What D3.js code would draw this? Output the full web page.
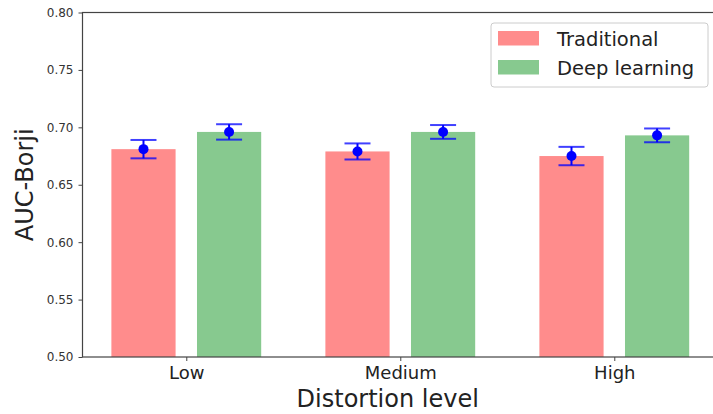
<!DOCTYPE html>
<html>
<head>
<meta charset="utf-8">
<script src="https://cdn.jsdelivr.net/npm/d3@7"></script>
<style>
  body { margin: 0; background: #fff; }
  svg { font-family: "DejaVu Sans", sans-serif; }
</style>
</head>
<body>
<svg width="713" height="414"></svg>
<script>
let levels = ["Low", "Medium", "High"];
let series_names = ["Traditional", "Deep learning"];
let traditional = [0.681, 0.679, 0.675];
let traditional_err = [0.008, 0.007, 0.008];
let deep = [0.696, 0.696, 0.693];
let deep_err = [0.0067, 0.006, 0.006];
let y_ticks = [0.50, 0.55, 0.60, 0.65, 0.70, 0.75, 0.80];

let colors = ["rgb(255,140,140)", "rgb(135,201,143)"];
let left = 82.5, top_ = 12.5, bottom = 357;

let svg = d3.select('svg');

let x = d3.scaleLinear().domain([-0.485, 2.485]).range([left, left + 2.97 * 214]);
let y = d3.scaleLinear().domain([0.5, 0.8]).range([bottom, top_]);

// bars + error data
let bar_data = [];
levels.forEach(function (lvl, i) {
    bar_data.push({ s: 0, pos: i - 0.2, v: traditional[i], e: traditional_err[i] });
    bar_data.push({ s: 1, pos: i + 0.2, v: deep[i], e: deep_err[i] });
});

svg.append('g')
    .selectAll('rect')
    .data(bar_data)
    .join('rect')
    .attr('x', function (d) { return x(d.pos - 0.15); })
    .attr('width', function (d) { return x(d.pos + 0.15) - x(d.pos - 0.15); })
    .attr('y', function (d) { return y(d.v); })
    .attr('height', function (d) { return y(0.5) - y(d.v); })
    .attr('fill', function (d) { return colors[d.s]; });

// error bars
let err = svg.append('g').attr('stroke', 'blue');
err.selectAll('line.v')
    .data(bar_data)
    .join('line')
    .attr('class', 'v')
    .attr('x1', function (d) { return x(d.pos); })
    .attr('x2', function (d) { return x(d.pos); })
    .attr('y1', function (d) { return y(d.v - d.e); })
    .attr('y2', function (d) { return y(d.v + d.e); })
    .attr('stroke-width', 2);
err.selectAll('line.cap')
    .data(bar_data.flatMap(function (d) { return [{ pos: d.pos, v: d.v - d.e }, { pos: d.pos, v: d.v + d.e }]; }))
    .join('line')
    .attr('class', 'cap')
    .attr('x1', function (d) { return x(d.pos) - 13; })
    .attr('x2', function (d) { return x(d.pos) + 13; })
    .attr('y1', function (d) { return y(d.v); })
    .attr('y2', function (d) { return y(d.v); })
    .attr('stroke-width', 2)
    .attr('stroke-opacity', 0.75);
svg.append('g')
    .selectAll('circle')
    .data(bar_data)
    .join('circle')
    .attr('cx', function (d) { return x(d.pos); })
    .attr('cy', function (d) { return y(d.v); })
    .attr('r', 5)
    .attr('fill', 'blue');

// axes
let yAxis = svg.append('g')
    .attr('transform', 'translate(' + left + ',0)')
    .call(d3.axisLeft(y).tickValues(y_ticks).tickFormat(d3.format('.2f')).tickSize(4).tickPadding(5));
yAxis.selectAll('text').attr('font-size', 12).attr('fill', '#333').attr('font-family', 'DejaVu Sans');

let xAxis = svg.append('g')
    .attr('transform', 'translate(0,' + bottom + ')')
    .call(d3.axisBottom(x).tickValues([0, 1, 2]).tickFormat(function (d) { return levels[d]; }).tickSize(4).tickPadding(5));
xAxis.selectAll('text').attr('font-size', 18).attr('fill', '#222').attr('font-family', 'DejaVu Sans');

svg.selectAll('.domain').remove();
svg.selectAll('.tick line').attr('stroke', '#444');

// spines
svg.append('rect')
    .attr('x', left).attr('y', top_)
    .attr('width', x(2.485) - left).attr('height', bottom - top_)
    .attr('fill', 'none').attr('stroke', '#444').attr('stroke-width', 1.2);

// axis labels
svg.append('text')
    .attr('transform', 'translate(33,' + (top_ + bottom) / 2 + ') rotate(-90)')
    .attr('text-anchor', 'middle')
    .attr('font-size', 24)
    .attr('fill', '#222')
    .text('AUC-Borji');
svg.append('text')
    .attr('x', (left + 713) / 2 - 10)
    .attr('y', 407)
    .attr('text-anchor', 'middle')
    .attr('font-size', 24)
    .attr('fill', '#222')
    .text('Distortion level');

// legend
let legend = svg.append('g');
legend.append('rect')
    .attr('x', 491).attr('y', 23).attr('width', 217).attr('height', 64).attr('rx', 3)
    .attr('fill', 'white').attr('fill-opacity', 0.8).attr('stroke', '#ccc');
let items = legend.selectAll('g.item')
    .data(series_names)
    .join('g')
    .attr('class', 'item')
    .attr('transform', function (d, i) { return 'translate(498,' + (31 + i * 29) + ')'; });
items.append('rect')
    .attr('width', 41).attr('height', 14.5)
    .attr('fill', function (d, i) { return colors[i]; });
items.append('text')
    .attr('x', 59).attr('y', 14.5)
    .attr('font-size', 19.5)
    .attr('fill', '#222')
    .text(function (d) { return d; });
</script>
</body>
</html>
